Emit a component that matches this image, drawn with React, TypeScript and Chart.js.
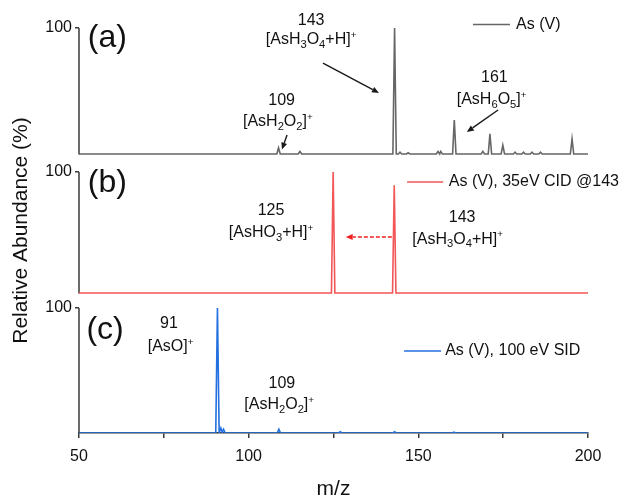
import React, { useEffect, useRef } from 'react';
import { Chart, registerables } from 'chart.js';

Chart.register(...registerables);

const FONT = '"Liberation Sans", Arial, Helvetica, sans-serif';

// ---- axis ticks ----
const xTickLabels = [50, 100, 150, 200];
const xMinorTicks = [75, 125, 175];
const yTickLabels = [100];
const xMin = 50;
const xMax = 200;

// ---- series ----
const seriesNames = ['As (V)', 'As (V), 35eV CID @143', 'As (V), 100 eV SID'];
const seriesColors = ['#666666', '#f25656', '#2370e0'];

// (a) full MS of As(V)
const mzA = [108.8, 115.1, 143.0, 144.6, 147.0, 155.8, 156.6, 160.6, 169.0, 171.1, 174.9, 178.5, 181.0, 183.5, 186.0, 195.3];
const intA = [5, 2, 100, 1.5, 1, 2, 2, 27, 2, 16, 7, 1.5, 1.5, 1.5, 1.5, 12];

// (b) 35 eV CID of m/z 143
const mzB = [124.9, 142.9];
const intB = [100, 89];

// (c) 100 eV SID
const mzC = [90.8, 91.8, 92.6, 108.9, 127.0, 143.0, 160.5];
const intC = [100, 4, 3, 3, 1, 1, 0.7];

const PEAK_HALF = 0.5;

function buildProfile(mz: number[], inten: number[]) {
  const pts: { x: number; y: number }[] = [{ x: xMin, y: 0 }];
  mz.forEach((m, i) => {
    pts.push({ x: m - PEAK_HALF, y: 0 }, { x: m, y: inten[i] }, { x: m + PEAK_HALF, y: 0 });
  });
  pts.push({ x: xMax, y: 0 });
  return pts;
}

// ---- annotations (data coordinates on each panel's scale) ----
type Ann = { axis: string; mz: number; v: number; text: string; size?: number; align?: 'left' | 'center' };
const annotations: Ann[] = [
  { axis: 'ya', mz: 52.6, v: 92, text: '(a)', size: 32, align: 'left' },
  { axis: 'ya', mz: 118.4, v: 105.6, text: '143' },
  { axis: 'ya', mz: 118.4, v: 90.5, text: '[AsH_3O_4+H]^+' },
  { axis: 'ya', mz: 109.7, v: 42.1, text: '109' },
  { axis: 'ya', mz: 108.6, v: 25.4, text: '[AsH_2O_2]^+' },
  { axis: 'ya', mz: 172.4, v: 60.7, text: '161' },
  { axis: 'ya', mz: 171.6, v: 42.9, text: '[AsH_6O_5]^+' },
  { axis: 'yb', mz: 52.6, v: 90.5, text: '(b)', size: 32, align: 'left' },
  { axis: 'yb', mz: 106.6, v: 67.8, text: '125' },
  { axis: 'yb', mz: 106.6, v: 49.6, text: '[AsHO_3+H]^+' },
  { axis: 'yb', mz: 162.9, v: 62.4, text: '143' },
  { axis: 'yb', mz: 161.6, v: 44.2, text: '[AsH_3O_4+H]^+' },
  { axis: 'yc', mz: 52.2, v: 82.4, text: '(c)', size: 32, align: 'left' },
  { axis: 'yc', mz: 76.5, v: 87.2, text: '91' },
  { axis: 'yc', mz: 77.0, v: 68.8, text: '[AsO]^+' },
  { axis: 'yc', mz: 109.8, v: 39.2, text: '109' },
  { axis: 'yc', mz: 109.0, v: 22.4, text: '[AsH_2O_2]^+' },
];

type Arrow = { axis: string; from: [number, number]; to: [number, number]; color: string; dash?: number[] };
const arrows: Arrow[] = [
  { axis: 'ya', from: [121.9, 72.2], to: [138.4, 48.4], color: '#1a1a1a' },
  { axis: 'ya', from: [111.3, 15.1], to: [109.8, 3.5], color: '#1a1a1a' },
  { axis: 'ya', from: [173.5, 34.9], to: [164.3, 17.5], color: '#1a1a1a' },
  { axis: 'yb', from: [142.2, 46.3], to: [128.6, 46.3], color: '#f02020', dash: [4, 2] },
];

const legends = [
  { axis: 'ya', x1: 166.1, x2: 177.0, v: 102.8, tx: 178.8 },
  { axis: 'yb', x1: 146.7, x2: 157.3, v: 91.7, tx: 159.0 },
  { axis: 'yc', x1: 145.8, x2: 156.7, v: 65.6, tx: 157.9 },
];

// ---- rich text helper ----
function parseRich(str: string) {
  const segs: { t: string; k: 'n' | 'sub' | 'sup' }[] = [];
  let cur = '';
  for (let i = 0; i < str.length; i++) {
    const c = str[i];
    if ((c === '_' || c === '^') && i + 1 < str.length) {
      if (cur) segs.push({ t: cur, k: 'n' });
      cur = '';
      segs.push({ t: str[i + 1], k: c === '_' ? 'sub' : 'sup' });
      i++;
    } else cur += c;
  }
  if (cur) segs.push({ t: cur, k: 'n' });
  return segs;
}

function drawRich(ctx: CanvasRenderingContext2D, str: string, x: number, y: number, size: number, align: string) {
  const segs = parseRich(str).map((s) => {
    const fs = s.k === 'n' ? size : s.k === 'sub' ? size * 0.7 : size * 0.62;
    ctx.font = `${fs}px ${FONT}`;
    return { ...s, fs, w: ctx.measureText(s.t).width };
  });
  const total = segs.reduce((a, s) => a + s.w, 0);
  let cx = align === 'left' ? x : x - total / 2;
  ctx.textAlign = 'left';
  ctx.textBaseline = 'middle';
  segs.forEach((s) => {
    ctx.font = `${s.fs}px ${FONT}`;
    const dy = s.k === 'sub' ? size * 0.3 : s.k === 'sup' ? -size * 0.32 : 0;
    ctx.fillText(s.t, cx, y + dy);
    cx += s.w;
  });
}

function drawArrow(ctx: CanvasRenderingContext2D, x1: number, y1: number, x2: number, y2: number, color: string, dash?: number[]) {
  const ang = Math.atan2(y2 - y1, x2 - x1);
  const head = 7;
  const hw = 3;
  const bx = x2 - head * Math.cos(ang);
  const by = y2 - head * Math.sin(ang);
  ctx.save();
  ctx.strokeStyle = color;
  ctx.fillStyle = color;
  ctx.lineWidth = 1.4;
  ctx.setLineDash(dash || []);
  ctx.beginPath();
  ctx.moveTo(x1, y1);
  ctx.lineTo(bx, by);
  ctx.stroke();
  ctx.setLineDash([]);
  ctx.beginPath();
  ctx.moveTo(x2, y2);
  ctx.lineTo(bx + hw * Math.sin(ang), by - hw * Math.cos(ang));
  ctx.lineTo(bx - hw * Math.sin(ang), by + hw * Math.cos(ang));
  ctx.closePath();
  ctx.fill();
  ctx.restore();
}

const annotPlugin = {
  id: 'annot',
  beforeDatasetsDraw(chart: any) {
    const ctx = chart.ctx as CanvasRenderingContext2D;
    const left = chart.chartArea.left;
    ctx.save();
    ctx.strokeStyle = '#3a3a3a';
    ctx.lineWidth = 1.5;
    ['ya', 'yb', 'yc'].forEach((id) => {
      const s = chart.scales[id];
      ctx.beginPath();
      ctx.moveTo(left, s.getPixelForValue(yTickLabels[0]));
      ctx.lineTo(left, s.getPixelForValue(0) + 0.5);
      ctx.stroke();
    });
    ctx.restore();
  },
  afterDraw(chart: any) {
    const ctx = chart.ctx as CanvasRenderingContext2D;
    const xs = chart.scales.x;
    ctx.save();
    ctx.fillStyle = '#111';
    annotations.forEach((a) => {
      const ys = chart.scales[a.axis];
      drawRich(ctx, a.text, xs.getPixelForValue(a.mz), ys.getPixelForValue(a.v), a.size || 16, a.align || 'center');
    });
    arrows.forEach((a) => {
      const ys = chart.scales[a.axis];
      drawArrow(ctx, xs.getPixelForValue(a.from[0]), ys.getPixelForValue(a.from[1]), xs.getPixelForValue(a.to[0]), ys.getPixelForValue(a.to[1]), a.color, a.dash);
    });
    legends.forEach((l, i) => {
      const ys = chart.scales[l.axis];
      const y = ys.getPixelForValue(l.v);
      ctx.strokeStyle = seriesColors[i];
      ctx.lineWidth = 1.6;
      ctx.beginPath();
      ctx.moveTo(xs.getPixelForValue(l.x1), y);
      ctx.lineTo(xs.getPixelForValue(l.x2), y);
      ctx.stroke();
      ctx.fillStyle = '#111';
      drawRich(ctx, seriesNames[i], xs.getPixelForValue(l.tx), y, 16, 'left');
    });
    // y axis title
    const ca = chart.chartArea;
    ctx.translate(21, (ca.top + ca.bottom) / 2);
    ctx.rotate(-Math.PI / 2);
    ctx.font = `21px ${FONT}`;
    ctx.textAlign = 'center';
    ctx.textBaseline = 'middle';
    ctx.fillStyle = '#111';
    ctx.fillText('Relative Abundance (%)', 0, 0);
    ctx.restore();
  },
};

function yAxis(min: number, max: number) {
  return {
    type: 'linear' as const,
    position: 'left' as const,
    stack: 'ms',
    stackWeight: 1,
    min,
    max,
    afterBuildTicks: (s: any) => {
      s.ticks = yTickLabels.map((v) => ({ value: v }));
    },
    afterFit: (s: any) => {
      s.width = 79;
    },
    ticks: { font: { family: FONT, size: 16 }, color: '#111', padding: 3 },
    grid: { drawOnChartArea: false, tickLength: 4, color: '#3a3a3a', lineWidth: 1.5 },
    border: { display: false },
  };
}

export default function App() {
  const ref = useRef<HTMLCanvasElement>(null);
  useEffect(() => {
    document.body.style.margin = '0';
    const canvas = ref.current!;
    const chart = new Chart(canvas, {
      type: 'line',
      data: {
        datasets: [
          { label: seriesNames[0], data: buildProfile(mzA, intA), yAxisID: 'ya', borderColor: seriesColors[0] },
          { label: seriesNames[1], data: buildProfile(mzB, intB), yAxisID: 'yb', borderColor: seriesColors[1] },
          { label: seriesNames[2], data: buildProfile(mzC, intC), yAxisID: 'yc', borderColor: seriesColors[2] },
        ].map((d) => ({ ...d, borderWidth: 1.6, pointRadius: 0, tension: 0, fill: false })),
      },
      options: {
        animation: false,
        responsive: false,
        devicePixelRatio: 1,
        parsing: true,
        layout: { padding: { top: 28, right: 42, bottom: 0, left: 0 } },
        plugins: { legend: { display: false }, tooltip: { enabled: false } },
        scales: {
          x: {
            type: 'linear',
            position: 'bottom',
            min: xMin,
            max: xMax,
            afterBuildTicks: (s: any) => {
              s.ticks = [...xTickLabels, ...xMinorTicks].sort((a, b) => a - b).map((v) => ({ value: v }));
            },
            afterFit: (s: any) => {
              s.height = 63;
            },
            ticks: {
              autoSkip: false,
              maxRotation: 0,
              padding: 9,
              font: { family: FONT, size: 16 },
              color: '#111',
              callback: (v: any) => (xTickLabels.includes(Number(v)) ? String(v) : ''),
            },
            grid: { drawOnChartArea: false, tickLength: 5, color: '#3a3a3a', lineWidth: 1.5 },
            border: { display: true, color: '#3a3a3a', width: 1.5 },
            title: { display: true, text: 'm/z', font: { family: FONT, size: 21 }, color: '#111', padding: { top: 0, bottom: -6 } },
          },
          // stacked bottom-to-top in definition order
          yc: yAxis(0, 108),
          yb: yAxis(-4.13, 107.44),
          ya: yAxis(-7.14, 100),
        },
      },
      plugins: [annotPlugin],
    } as any);
    return () => chart.destroy();
  }, []);
  return <canvas ref={ref} width={630} height={496} style={{ display: 'block', width: 630, height: 496 }} />;
}
